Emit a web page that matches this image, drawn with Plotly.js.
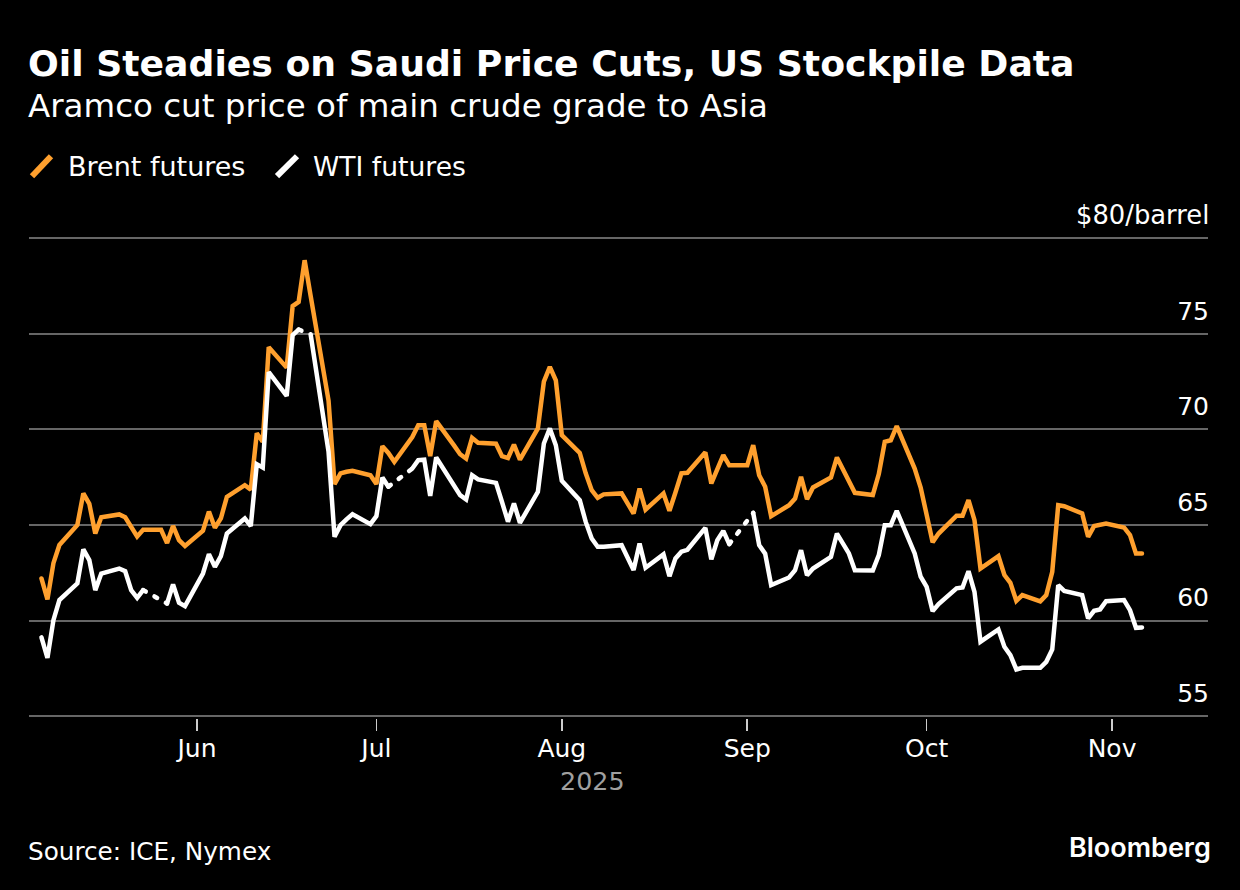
<!DOCTYPE html>
<html><head><meta charset="utf-8">
<script src="https://cdn.plot.ly/plotly-3.0.1.min.js"></script>
<style>html,body{margin:0;padding:0;background:#000}
#c{width:1240px;height:890px}
.js-line{stroke-linecap:round}
</style></head><body><div id="c"></div>
<script>
const mayDays=[6,7,8,9,12,13,14,15,16,19,20,21,22,23,26,27,28,29,30];
const junDays=[2,3,4,5,6,9,10,11,12,13,16,17,18,19,20,23,24,25,26,27,30];
const julDays=[1,2,3,4,7,8,9,10,11,14,15,16,17,18,21,22,23,24,25,28,29,30,31];
const augDays=[1,4,5,6,7,8,11,12,13,14,15,18,19,20,21,22,25,26,27,28,29];
const sepDays=[1,2,3,4,5,8,9,10,11,12,15,16,17,18,19,22,23,24,25,26,29,30];
const octDays=[1,2,3,6,7,8,9,10,13,14,15,16,17,20,21,22,23,24,27,28,29,30,31];
const novDays=[3,4,5,6];
const brentMay=[62.2,61.1,63.0,63.95,65.0,66.65,66.1,64.55,65.4,65.55,65.4,64.9,64.4,64.75,64.75,64.05,64.95,64.2,63.9];
const brentJun=[64.7,65.7,64.85,65.35,66.47,67.08,66.85,69.8,69.35,74.3,73.23,76.45,76.67,78.85,77.0,71.5,67.14,67.7,67.78,67.83,67.6];
const brentJul=[67.14,69.12,68.77,68.3,69.6,70.22,70.22,68.6,70.43,69.15,68.7,68.47,69.55,69.3,69.25,68.6,68.5,69.2,68.42,70.05,72.5,73.27,72.57];
const brentAug=[69.7,68.77,67.7,66.82,66.42,66.6,66.65,66.12,65.6,66.9,65.8,66.65,65.74,66.7,67.7,67.73,68.8,67.17,67.95,68.65,68.12];
const brentSep=[68.12,69.17,67.6,67,65.46,66.03,66.38,67.52,66.35,66.96,67.48,68.53,67.95,67.34,66.68,66.57,67.66,69.35,69.43,70.17,67.95,66.96];
const brentOct=[65.43,64.1,64.55,65.48,65.48,66.3,65.25,62.72,63.37,62.38,61.97,61.03,61.33,61.0,61.33,62.55,66.04,65.98,65.6,64.38,64.94,65.02,65.07];
const brentNov=[64.87,64.47,63.5,63.5];
const wtiMay=[59.12,58.05,60.02,61.07,61.94,63.72,63.16,61.59,62.46,62.72,62.58,61.59,61.19,61.59,null,60.89,61.89,60.93,60.75];
const wtiJun=[62.46,63.47,62.81,63.37,64.55,65.34,64.94,68.18,68.0,73.0,71.75,74.93,75.22,null,74.98,68.83,64.38,64.99,65.29,65.56,65.04];
const wtiJul=[65.46,67.48,67.0,null,67.95,68.39,68.42,66.52,68.53,67.0,66.56,66.33,67.6,67.38,67.2,66.2,65.17,66.12,65.11,66.73,69.26,70.05,69.17];
const wtiAug=[67.31,66.3,65.16,64.29,63.86,63.86,63.94,63.25,62.64,64.03,62.76,63.46,62.32,63.25,63.6,63.7,64.85,63.2,64.2,64.69,64.0];
const wtiSep=[null,65.63,63.94,63.5,61.85,62.25,62.63,63.68,62.37,62.72,63.33,64.55,64.03,63.51,62.63,62.62,63.42,64.99,64.99,65.74,63.51,62.29];
const wtiOct=[61.76,60.49,60.86,61.68,61.73,62.58,61.5,58.89,59.53,58.63,58.19,57.44,57.53,57.53,57.84,58.49,61.85,61.55,61.33,60.11,60.51,60.58,61.01];
const wtiNov=[61.07,60.54,59.62,59.64];
const yTickVals=[55,60,65,70,75,80];
const yTickText=['55','60','65','70','75',''];
const yTopLabel='$80/barrel';
const xTickVals=['2025-06-01','2025-07-01','2025-08-01','2025-09-01','2025-10-01','2025-11-01'];
const xTickText=['Jun','Jul','Aug','Sep','Oct','Nov'];

const pad=n=>String(n).padStart(2,'0');
const mk=(m,ds)=>ds.map(d=>`2025-${m}-${pad(d)}`);
const dates=[...mk('05',mayDays),...mk('06',junDays),...mk('07',julDays),...mk('08',augDays),...mk('09',sepDays),...mk('10',octDays),...mk('11',novDays)];
const brent=[...brentMay,...brentJun,...brentJul,...brentAug,...brentSep,...brentOct,...brentNov];
const wti=[...wtiMay,...wtiJun,...wtiJul,...wtiAug,...wtiSep,...wtiOct,...wtiNov];
const gapX=[],gapY=[];
wti.forEach((v,i)=>{if(v===null){gapX.push(dates[i-1],dates[i+1],null);gapY.push(wti[i-1],wti[i+1],null);}});

const FONT='"DejaVu Sans",sans-serif';
const ORANGE='#FFA02E',WHITE='#FFFFFF',GRID='#666666';
const L=29,R=1208,T=199.76,B=717.9;
const px=x=>(x-L)/(R-L), py=y=>(B-y)/(B-T);
const note=(text,x,y,size,opts={})=>Object.assign({text,xref:'paper',yref:'paper',x:px(x),y:py(y),xanchor:'left',yanchor:'middle',showarrow:false,font:{family:FONT,size,color:'#fff'}},opts);

const traces=[
 {x:dates,y:brent,name:'Brent futures',mode:'lines',line:{color:ORANGE,width:4.5},connectgaps:false},
 {x:dates,y:wti,name:'WTI futures',mode:'lines',line:{color:WHITE,width:4.5},connectgaps:false},
 {x:gapX,y:gapY,name:'WTI gap',mode:'lines',line:{color:WHITE,width:4.5,dash:'3px,10px'},connectgaps:false}
];
const layout={
 width:1240,height:890,paper_bgcolor:'#000',plot_bgcolor:'#000',showlegend:false,
 margin:{l:L,r:1240-R,t:T,b:890-B,pad:0},
 title:{text:'<b>Oil Steadies on Saudi Price Cuts, US Stockpile Data</b>',x:28/1240,xref:'container',xanchor:'left',y:1-63/890,yref:'container',yanchor:'middle',font:{family:FONT,size:36.2,color:'#fff'}},
 xaxis:{type:'date',range:['2025-05-03 22:00','2025-11-17 01:00'],tickmode:'array',tickvals:xTickVals,ticktext:xTickText,ticks:'outside',ticklen:12,tickwidth:1.5,tickcolor:'#CCCCCC',ticklabelstandoff:-4,showgrid:false,showline:false,zeroline:false,tickfont:{family:FONT,size:25,color:'#fff'}},
 yaxis:{side:'right',range:[54.9,82],tickmode:'array',tickvals:yTickVals,ticktext:yTickText,ticks:'',ticklabelposition:'inside',ticklabelshift:-23,ticklabelstandoff:-4,gridcolor:GRID,gridwidth:2,showline:false,zeroline:false,tickfont:{family:FONT,size:25,color:'#fff'}},
 annotations:[
  note(yTopLabel,1211,215,25.8,{xanchor:'right'}),
  note('Aramco cut price of main crude grade to Asia',26,106,32.5),
  note('Brent futures',66,166,27),
  note('WTI futures',311,166,26.6),
  note('2025',592,781,25.4,{xanchor:'center',font:{family:FONT,size:25.4,color:'#A0A0A0'}}),
  note('Source: ICE, Nymex',26,851,24.7),
  note('Bloomberg',1213,847,27,{xanchor:'right',font:{family:'Inter,sans-serif',size:27,weight:600,color:'#fff'}})
 ],
 shapes:[
  {type:'line',xref:'paper',yref:'paper',x0:px(32),x1:px(51),y0:py(176),y1:py(156),line:{color:ORANGE,width:6}},
  {type:'line',xref:'paper',yref:'paper',x0:px(277),x1:px(297),y0:py(176),y1:py(156),line:{color:WHITE,width:6}}
 ]
};
Plotly.newPlot('c',traces,layout,{displayModeBar:false,staticPlot:true});
</script></body></html>
